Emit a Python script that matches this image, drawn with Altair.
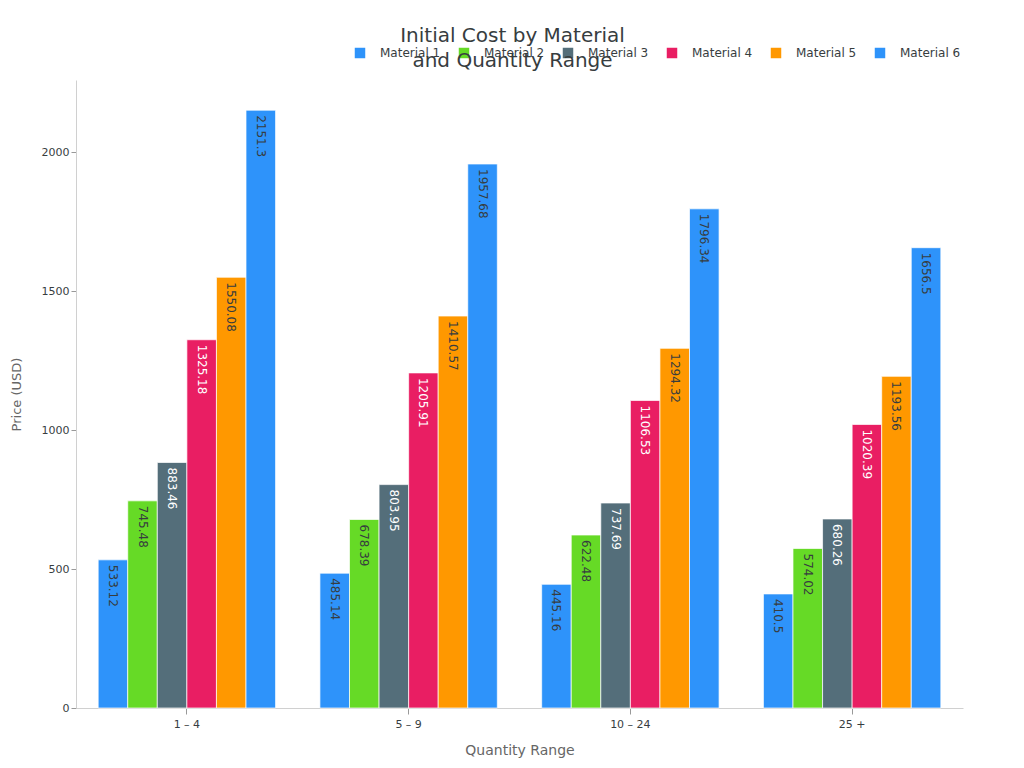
import altair as alt
import pandas as pd

ranges = ["1 – 4", "5 – 9", "10 – 24", "25 +"]
materials = ["Material 1", "Material 2", "Material 3", "Material 4", "Material 5", "Material 6"]
m1 = [533.12, 485.14, 445.16, 410.5]
m2 = [745.48, 678.39, 622.48, 574.02]
m3 = [883.46, 803.95, 737.69, 680.26]
m4 = [1325.18, 1205.91, 1106.53, 1020.39]
m5 = [1550.08, 1410.57, 1294.32, 1193.56]
m6 = [2151.3, 1957.68, 1796.34, 1656.5]
colors = ["#2E93FA", "#66DA26", "#546E7A", "#E91E63", "#FF9800", "#2E93FA"]
label_colors = ["#373d3f", "#373d3f", "#ffffff", "#ffffff", "#373d3f", "#373d3f"]

rows = []
for mat, vals, lc in zip(materials, [m1, m2, m3, m4, m5, m6], label_colors):
    for r, v in zip(ranges, vals):
        rows.append({"range": r, "material": mat, "value": v, "lc": lc})
df = pd.DataFrame(rows)

FONT = "DejaVu Sans"

base = alt.Chart(df).encode(
    x=alt.X(
        "range:N",
        sort=ranges,
        scale=alt.Scale(paddingInner=0.2, paddingOuter=0.1),
        axis=alt.Axis(
            title="Quantity Range",
            labelAngle=0,
            labelFontSize=11,
            labelColor="#373d3f",
            labelPadding=4,
            tickColor="#999999",
            tickSize=6,
            domainColor="#d0d0d0",
            titleFontSize=14,
            titleFontWeight="normal",
            titleColor="#666666",
            titlePadding=14,
        ),
    ),
    xOffset=alt.XOffset("material:N", sort=materials, scale=alt.Scale(paddingInner=0, paddingOuter=0)),
    y=alt.Y(
        "value:Q",
        scale=alt.Scale(domain=[0, 2260], nice=False),
        axis=alt.Axis(
            title="Price (USD)",
            values=[0, 500, 1000, 1500, 2000],
            format="d",
            grid=False,
            labelFontSize=11,
            labelColor="#373d3f",
            tickColor="#999999",
            tickSize=5,
            domainColor="#d0d0d0",
            titleFontSize=13,
            titleFontWeight="normal",
            titleColor="#666666",
            titlePadding=18,
        ),
    ),
)

bars = base.mark_bar(stroke="white", strokeWidth=1, strokeOpacity=0.7).encode(
    color=alt.Color(
        "material:N",
        sort=materials,
        scale=alt.Scale(domain=materials, range=colors),
        legend=alt.Legend(
            title=None,
            orient="none",
            direction="horizontal",
            columns=6,
            legendX=278,
            legendY=-33,
            symbolType="square",
            symbolSize=110,
            symbolStrokeWidth=0,
            labelFontSize=12,
            labelColor="#373d3f",
            labelOffset=14,
            columnPadding=17,
        ),
    )
)

labels = base.mark_text(angle=90, align="left", baseline="middle", dx=5, fontSize=12, font=FONT).encode(
    text=alt.Text("value:Q", format=".2~f"),
    color=alt.Color("lc:N", scale=None),
)

chart = (
    alt.layer(bars, labels)
    .properties(
        width=887,
        height=628,
        padding={"left": 68, "top": 72, "right": 40, "bottom": 50},
        autosize=alt.AutoSizeParams(type="none"),
        title=alt.Title(
            ["Initial Cost by Material", "and Quantity Range"],
            fontSize=20,
            fontWeight="normal",
            color="#373d3f",
            anchor="middle",
            frame="group",
            dx=-7,
            dy=28,
            lineHeight=25,
            font=FONT,
        ),
    )
    .configure(font=FONT)
    .configure_view(stroke=None)
)

chart.save("out.html", embed_options={"renderer": "svg", "actions": False})
